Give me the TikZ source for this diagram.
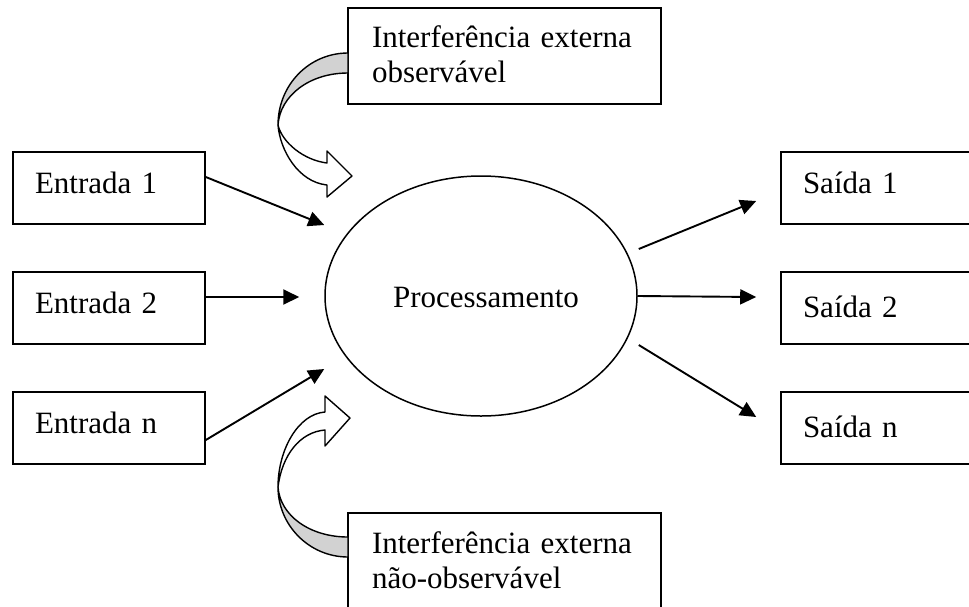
\documentclass[tikz,border=0pt]{standalone}
\usepackage{fontspec}
\setmainfont{Liberation Serif}
\usetikzlibrary{arrows.meta,calc,shapes.geometric}
\begin{document}
\begin{tikzpicture}[x=1pt,y=-1pt,
  txt/.style={font=\fontsize{31}{35}\selectfont},
  box/.style={draw, line width=1.6pt, txt, align=left, inner xsep=22pt, inner ysep=0pt,
    text width=148pt, minimum height=72pt, text height=20pt, text depth=10pt},
  outbox/.style={box, text width=156pt},
  lowtext/.style={text height=22pt, text depth=4pt},
  ibox/.style={draw, line width=1.6pt, txt, align=left, inner xsep=24pt, inner ysep=0pt,
    text width=265pt, minimum height=96pt},
  arr/.style={line width=1.9pt, -{Triangle[length=16pt,width=15pt]}},
  band/.style={line width=1.4pt, line join=round}
]
\useasboundingbox (0,0) rectangle (969,606);

% boxes
\node[box] (e1) at (109,188) {Entrada 1};
\node[box] (e2) at (109,308) {Entrada 2};
\node[box] (en) at (109,428) {Entrada n};
\node[outbox] (s1) at (881,188) {Saída 1};
\node[outbox,lowtext] (s2) at (881,308) {Saída 2};
\node[outbox,lowtext] (sn) at (881,428) {Saída n};
\node[ibox, text height=22pt, text depth=40pt] (ib1) at (504.5,56) {Interferência externa\\observável};
\node[ibox, text height=22pt, text depth=38pt] (ib2) at (504.5,561) {Interferência externa\\não-observável};
\node[ellipse, draw, line width=1.5pt, minimum width=312pt, minimum height=240pt, inner sep=0pt,
  txt, text height=22pt, text depth=0pt] (p) at (481,296) {\hspace*{10pt}Processamento};

% arrow end points
\coordinate (a1) at ($(p.west)+(0,-71)$);
\coordinate (a2) at ($(p.west)+(-25,1)$);
\coordinate (an) at ($(p.west)+(0,73)$);
\coordinate (b1) at ($(s1.west)+(-24,13)$);
\coordinate (b2) at ($(s2.west)+(-24,-11)$);
\coordinate (bn) at ($(sn.west)+(-24,-11)$);

% input arrows
\draw[arr] ($(e1.east)+(0,-11)$) -- (a1);
\draw[arr] ($(e2.east)+(0,-11)$) -- (a2);
\draw[arr] ($(en.east)+(0,12)$) -- (an);

% output arrows
\draw[arr] ($(p.east)+(1,-47)$) -- (b1);
\draw[arr] (p.east) -- (b2);
\draw[arr] ($(p.east)+(1,49)$) -- (bn);

% top curved arrow
\filldraw[band, fill=gray!35] (348,53) .. controls (309,53) and (278,85) .. (278,125)
  .. controls (280,96) and (309,73) .. (348,73) -- cycle;
\filldraw[band, fill=white] (278,125) .. controls (282,142) and (303,160) .. (327,163)
  -- (327,151) -- (352,176) -- (327,197) -- (327,185)
  .. controls (298,182) and (280,150) .. (278,125) -- cycle;

% bottom curved arrow
\filldraw[band, fill=gray!35] (348,557) .. controls (309,557) and (278,525) .. (278,487)
  .. controls (280,515) and (309,537) .. (348,537) -- cycle;
\filldraw[band, fill=white] (278,487) .. controls (278,450) and (298,414) .. (325,412)
  -- (325,396) -- (350,418) -- (325,446) -- (325,430)
  .. controls (300,432) and (282,455) .. (278,487) -- cycle;
\end{tikzpicture}
\end{document}
